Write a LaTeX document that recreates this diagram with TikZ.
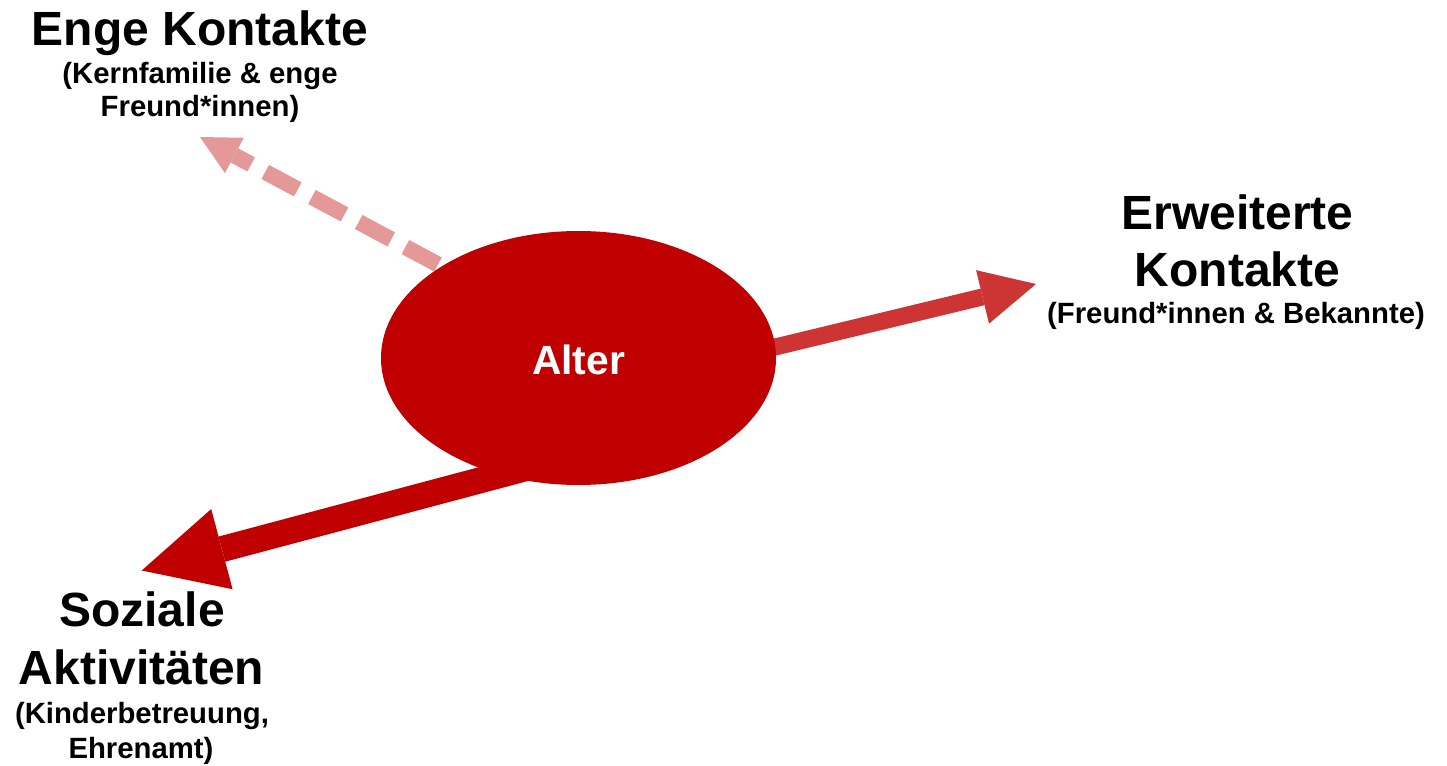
\documentclass[tikz,border=0pt]{standalone}
\usepackage{fontspec}
\setmainfont{Liberation Sans}
\usetikzlibrary{arrows.meta,shapes.geometric}
\definecolor{altred}{HTML}{C00000}
\definecolor{midred}{HTML}{CD3434}
\definecolor{pinkred}{HTML}{E59898}
\begin{document}
\begin{tikzpicture}[x=1pt,y=-1pt,
  title/.style={anchor=base, inner sep=0pt, font=\fontsize{48}{57}\selectfont\bfseries},
  sub/.style={anchor=base, inner sep=0pt, font=\fontsize{29.3}{34}\selectfont\bfseries},
  hub/.style={ellipse, fill=altred, inner sep=0pt, minimum width=395pt, minimum height=254pt,
    text=white, text height=32.5pt, text depth=0pt, font=\fontsize{40.8}{48}\selectfont\bfseries},
]
\useasboundingbox (0,0) rectangle (1447,765);

% arrow end points
\coordinate (tipE) at (200,137);
\coordinate (tailE) at (480,287);
\coordinate (tipR) at (1036,284);
\coordinate (tailR) at (740,355.5);
\coordinate (tipS) at (141.7,570.5);
\coordinate (tailS) at (560,459);

% connectors
\draw[pinkred, line width=16pt, dash pattern=on 37pt off 16pt, dash phase=18pt,
  {Triangle[length=39pt,width=40pt,line width=0pt]}-] (tipE) -- (tailE);
\draw[midred, line width=17pt, -{Triangle[length=55pt,width=55pt,line width=0pt]}] (tailR) -- (tipR);
\draw[altred, line width=26pt, -{Triangle[length=83pt,width=83pt,line width=0pt]}] (tailS) -- (tipS);

% central node
\node[hub] (alter) at (578.5,358) {Alter};

% labels
\node[title] (engeT) at (200,45.7) {Enge Kontakte};
\node[sub] (engeS1) at (200,83.3) {(Kernfamilie \& enge};
\node[sub] (engeS2) at (200,116.7) {Freund*innen)};
\node[title] (erwT1) at (1237.5,229.3) {Erweiterte};
\node[title] (erwT2) at (1237.5,286) {Kontakte};
\node[sub] (erwS) at (1236,323.3) {(Freund*innen \& Bekannte)};
\node[title] (sozT1) at (142,626.7) {Soziale};
\node[title] (sozT2) at (141.5,684) {Aktivitäten};
\node[sub] (sozS1) at (142,723.3) {(Kinderbetreuung,};
\node[sub] (sozS2) at (141,758.3) {Ehrenamt)};
\end{tikzpicture}
\end{document}
